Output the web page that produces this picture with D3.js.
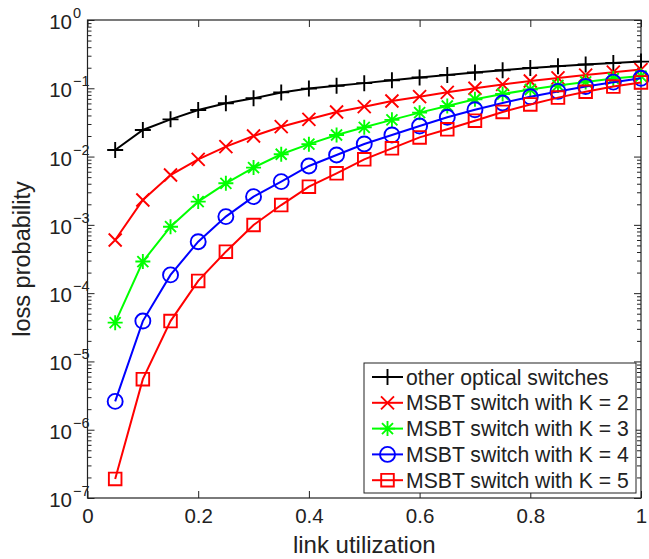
<!DOCTYPE html>
<html>
<head>
<meta charset="utf-8">
<script src="https://cdn.jsdelivr.net/npm/d3@7"></script>
<style>
  html, body { margin: 0; padding: 0; background: #fff; }
  svg { display: block; font-family: "Liberation Sans", Arial, Helvetica, sans-serif; }
</style>
</head>
<body>
<svg id="chart" width="649" height="559"></svg>
<script>
// ---- data ----
const utilization = [0.05, 0.10, 0.15, 0.20, 0.25, 0.30, 0.35, 0.40, 0.45, 0.50,
                     0.55, 0.60, 0.65, 0.70, 0.75, 0.80, 0.85, 0.90, 0.95, 1.00];
const otherSwitches = [0.0125, 0.0245, 0.0351, 0.0481, 0.0603, 0.0713, 0.087, 0.099, 0.109, 0.119,
                       0.131, 0.144, 0.157, 0.170, 0.184, 0.198, 0.211, 0.223, 0.235, 0.246];
const msbtK2 = [6.0e-4, 2.31e-3, 5.37e-3, 9.1e-3, 0.0140, 0.0200, 0.0274, 0.0351, 0.0450, 0.0538,
                0.0652, 0.0753, 0.0873, 0.100, 0.114, 0.128, 0.142, 0.156, 0.172, 0.188];
const msbtK3 = [3.7e-5, 2.9e-4, 9.4e-4, 2.19e-3, 4.06e-3, 6.89e-3, 0.0108, 0.0152, 0.0207, 0.0268,
                0.0345, 0.0440, 0.0550, 0.0690, 0.0825, 0.0960, 0.110, 0.124, 0.139, 0.151];
const msbtK4 = [2.6e-6, 3.9e-5, 1.85e-4, 5.67e-4, 1.32e-3, 2.59e-3, 4.3e-3, 7.28e-3, 0.01055, 0.0153,
                0.0207, 0.0280, 0.0376, 0.0485, 0.061, 0.075, 0.090, 0.106, 0.123, 0.140];
const msbtK5 = [1.9e-7, 5.5e-6, 3.9e-5, 1.51e-4, 4.05e-4, 9.95e-4, 1.95e-3, 3.62e-3, 5.69e-3, 9.12e-3,
                0.0132, 0.0191, 0.0251, 0.0335, 0.045, 0.058, 0.073, 0.089, 0.106, 0.122];
const seriesNames = ["other optical switches", "MSBT switch with K = 2", "MSBT switch with K = 3",
                     "MSBT switch with K = 4", "MSBT switch with K = 5"];
const xTickValues = [0, 0.2, 0.4, 0.6, 0.8, 1];
const xTickLabels = ["0", "0.2", "0.4", "0.6", "0.8", "1"];
const yTickExponents = [0, -1, -2, -3, -4, -5, -6, -7];
const xAxisTitle = "link utilization";
const yAxisTitle = "loss probability";

// ---- styles ----
const colors = ["#000000", "#ff0000", "#00ff00", "#0000ff", "#ff0000"];
const markers = ["plus", "cross", "star", "circle", "square"];
const allSeries = [otherSwitches, msbtK2, msbtK3, msbtK4, msbtK5];

const svg = d3.select("#chart");
const L = 87.5, R = 641, T = 20, B = 498;

const x = d3.scaleLinear().domain([0, 1]).range([L, R]);
const y = d3.scaleLog().domain([1e-7, 1]).range([B, T]);

function markerPath(type) {
  const p = d3.path();
  if (type === "plus") {
    const s = 8; p.moveTo(-s, 0); p.lineTo(s, 0); p.moveTo(0, -s); p.lineTo(0, s);
  } else if (type === "cross") {
    const s = 6.5; p.moveTo(-s, -s); p.lineTo(s, s); p.moveTo(-s, s); p.lineTo(s, -s);
  } else if (type === "star") {
    const s = 7.5, d = 5.5;
    p.moveTo(-s, 0); p.lineTo(s, 0); p.moveTo(0, -s); p.lineTo(0, s);
    p.moveTo(-d, -d); p.lineTo(d, d); p.moveTo(-d, d); p.lineTo(d, -d);
  } else if (type === "circle") {
    const r = 7.5; p.moveTo(r, 0); p.arc(0, 0, r, 0, 2 * Math.PI);
  } else if (type === "square") {
    const h = 6.3; p.rect(-h, -h, 2 * h, 2 * h);
  }
  return p.toString();
}

// ---- axes (MATLAB-style inward ticks, box) ----
const minorVals = [];
for (let e = -7; e < 0; e++) for (let m = 2; m <= 9; m++) minorVals.push(m * Math.pow(10, e));
const majorVals = yTickExponents.map(e => Math.pow(10, e));

const axisG = svg.append("g").attr("class", "axes");

axisG.append("g").attr("transform", `translate(0,${B})`)
  .call(d3.axisBottom(x).tickValues(xTickValues).tickFormat((d, i) => xTickLabels[i])
    .tickSizeInner(-7).tickSizeOuter(0).tickPadding(10))
  .call(g => g.selectAll("text").attr("font-size", 20.5).attr("fill", "#222"));
axisG.append("g").attr("transform", `translate(0,${T})`)
  .call(d3.axisTop(x).tickValues(xTickValues).tickFormat("").tickSizeInner(-7).tickSizeOuter(0));
axisG.append("g").attr("transform", `translate(${L},0)`)
  .call(d3.axisLeft(y).tickValues(majorVals).tickFormat("").tickSizeInner(-7).tickSizeOuter(0));
axisG.append("g").attr("transform", `translate(${L},0)`)
  .call(d3.axisLeft(y).tickValues(minorVals).tickFormat("").tickSizeInner(-4).tickSizeOuter(0));
axisG.append("g").attr("transform", `translate(${R},0)`)
  .call(d3.axisRight(y).tickValues(majorVals).tickFormat("").tickSizeInner(-7).tickSizeOuter(0));
axisG.append("g").attr("transform", `translate(${R},0)`)
  .call(d3.axisRight(y).tickValues(minorVals).tickFormat("").tickSizeInner(-4).tickSizeOuter(0));

axisG.selectAll(".domain").remove();
axisG.selectAll("line").attr("stroke", "#222").attr("stroke-width", 1);

svg.append("rect").attr("x", L).attr("y", T).attr("width", R - L).attr("height", B - T)
  .attr("fill", "none").attr("stroke", "#222").attr("stroke-width", 1.2);

// y tick labels 10^k
const ylab = svg.append("g").attr("fill", "#222");
yTickExponents.forEach(e => {
  const yy = y(Math.pow(10, e));
  ylab.append("text").attr("x", 72).attr("y", yy + 9).attr("text-anchor", "end")
    .attr("font-size", 20.5).text("10");
  ylab.append("text").attr("x", 73).attr("y", yy - 2).attr("text-anchor", "start")
    .attr("font-size", 14.5).text(e < 0 ? "\u2212" + Math.abs(e) : String(e));
});

// axis titles
svg.append("text").attr("x", (L + R) / 2).attr("y", 553).attr("text-anchor", "middle")
  .attr("font-size", 24).attr("fill", "#222").text(xAxisTitle);
svg.append("text").attr("transform", `translate(30,${(T + B) / 2}) rotate(-90)`)
  .attr("text-anchor", "middle").attr("font-size", 23.5).attr("fill", "#222").text(yAxisTitle);

// ---- series ----
const line = d3.line().x(d => x(d[0])).y(d => y(d[1]));
allSeries.forEach((vals, si) => {
  const pts = utilization.map((u, i) => [u, vals[i]]);
  const g = svg.append("g");
  g.append("path").attr("d", line(pts)).attr("fill", "none")
    .attr("stroke", colors[si]).attr("stroke-width", 2);
  g.selectAll("path.mk").data(pts).join("path").attr("class", "mk")
    .attr("transform", d => `translate(${x(d[0])},${y(d[1])})`)
    .attr("d", markerPath(markers[si]))
    .attr("fill", "none").attr("stroke", colors[si]).attr("stroke-width", 1.9);
});

// ---- legend ----
const lg = svg.append("g");
lg.append("rect").attr("x", 364).attr("y", 363).attr("width", 272).attr("height", 130)
  .attr("fill", "#fff").attr("stroke", "#222").attr("stroke-width", 1);
seriesNames.forEach((name, i) => {
  const cy = 377 + i * 25.8;
  lg.append("line").attr("x1", 372).attr("x2", 403).attr("y1", cy).attr("y2", cy)
    .attr("stroke", colors[i]).attr("stroke-width", 2);
  lg.append("path").attr("transform", `translate(387.5,${cy})`).attr("d", markerPath(markers[i]))
    .attr("fill", "none").attr("stroke", colors[i]).attr("stroke-width", 1.9);
  lg.append("text").attr("x", 406).attr("y", cy).attr("dy", "0.36em")
    .attr("font-size", 21.2).attr("fill", "#222").text(name);
});
</script>
</body>
</html>
